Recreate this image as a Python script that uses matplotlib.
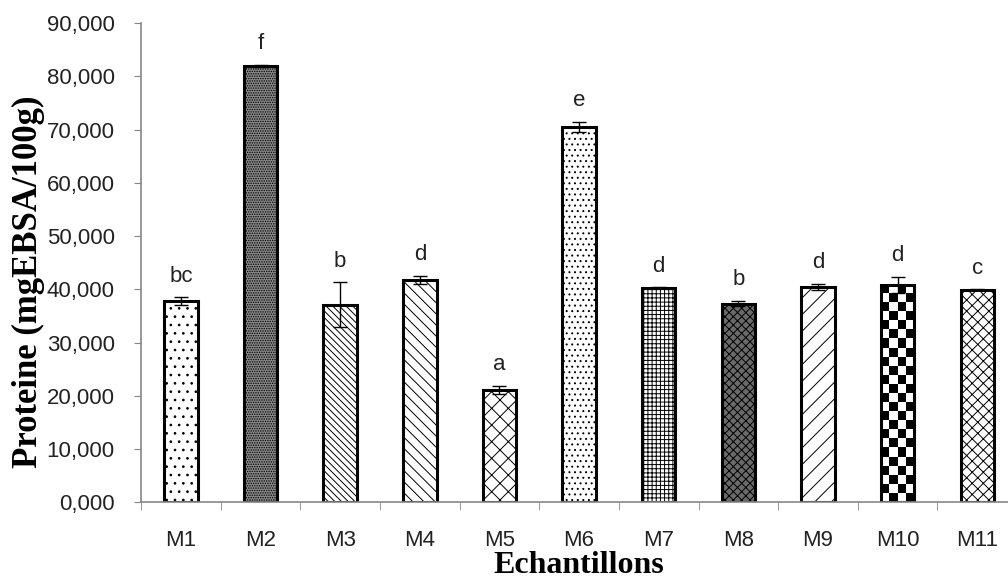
import numpy as np
import matplotlib.pyplot as plt
from matplotlib.ticker import FuncFormatter

# donnees
echantillons = ['M1', 'M2', 'M3', 'M4', 'M5', 'M6', 'M7', 'M8', 'M9', 'M10', 'M11']
proteine = [37.8, 82.0, 37.1, 41.8, 21.1, 70.5, 40.3, 37.3, 40.4, 40.9, 39.9]
erreur = [0.7, 0.2, 4.2, 0.8, 0.8, 1.0, 0.1, 0.5, 0.6, 1.5, 0.1]
lettres = ['bc', 'f', 'b', 'd', 'a', 'e', 'd', 'b', 'd', 'd', 'c']

hachures = ['..', '.......', '\\\\\\\\\\', '\\\\\\', 'xx', '...', '++++', 'xxxx', '//', '', 'xxx']
couleurs = ['white', '#8a8a8a', 'white', 'white', 'white', 'white', 'white', '#6a6a6a', 'white', 'none', 'white']

GRIS = '#868686'
TICK_FONT = ['Liberation Sans', 'DejaVu Sans']

fig = plt.figure(figsize=(10.08, 5.84), dpi=100)
ax = fig.add_axes([0.140, 0.140, 0.869, 0.8202])

x = np.arange(len(echantillons))
bars = ax.bar(x, proteine, width=0.42, color=couleurs, edgecolor='black', linewidth=2.2, zorder=2)
for b, h in zip(bars, hachures):
    b.set_hatch(h)
    if hasattr(b, 'set_hatch_linewidth'):
        b.set_hatch_linewidth(0.7)

# damier pour M10
b10 = bars[9]
damier = np.indices((24, 4)).sum(axis=0) % 2
im = ax.imshow(damier, cmap='gray', aspect='auto', interpolation='nearest',
               extent=(b10.get_x(), b10.get_x() + b10.get_width(), 0, b10.get_height()), zorder=1.5)
im.set_clip_path(b10)

ax.errorbar(x, proteine, yerr=erreur, fmt='none', ecolor='black', elinewidth=1, capsize=5, capthick=1, zorder=3)

for xi, v, e, l in zip(x, proteine, erreur, lettres):
    ax.text(xi, v + e + 2.0, l, ha='center', va='bottom', fontsize=16, family=TICK_FONT, color='#222222')

ax.set_xlim(-0.5, 10.5)
ax.set_ylim(0, 90)
ax.set_yticks(np.arange(0, 91, 10))
ax.yaxis.set_major_formatter(FuncFormatter(lambda v, p: f"{v:.3f}".replace('.', ',')))
ax.set_xticks(x)
ax.set_xticklabels(echantillons)
ax.set_xticks(np.arange(-0.5, 11, 1), minor=True)
ax.tick_params(axis='x', which='major', length=0, pad=20)
ax.tick_params(axis='x', which='minor', length=6, color=GRIS, direction='out')
ax.tick_params(axis='y', length=5, color=GRIS, direction='out', pad=14)
for lab in ax.get_xticklabels() + ax.get_yticklabels():
    lab.set_family(TICK_FONT)
    lab.set_fontsize(16)
    lab.set_color('#222222')

for s in ['top', 'right']:
    ax.spines[s].set_visible(False)
for s in ['left', 'bottom']:
    ax.spines[s].set_color(GRIS)
    ax.spines[s].set_linewidth(1.2)

ax.set_ylabel('Proteine (mgEBSA/100g)', family='Liberation Serif', fontweight='bold', fontsize=25)
ax.set_xlabel('Echantillons', family='Liberation Serif', fontweight='bold', fontsize=23)
ax.yaxis.set_label_coords(-0.11, 0.46)
ax.xaxis.set_label_coords(0.5, -0.102)

fig.savefig('out.png', dpi=100)
